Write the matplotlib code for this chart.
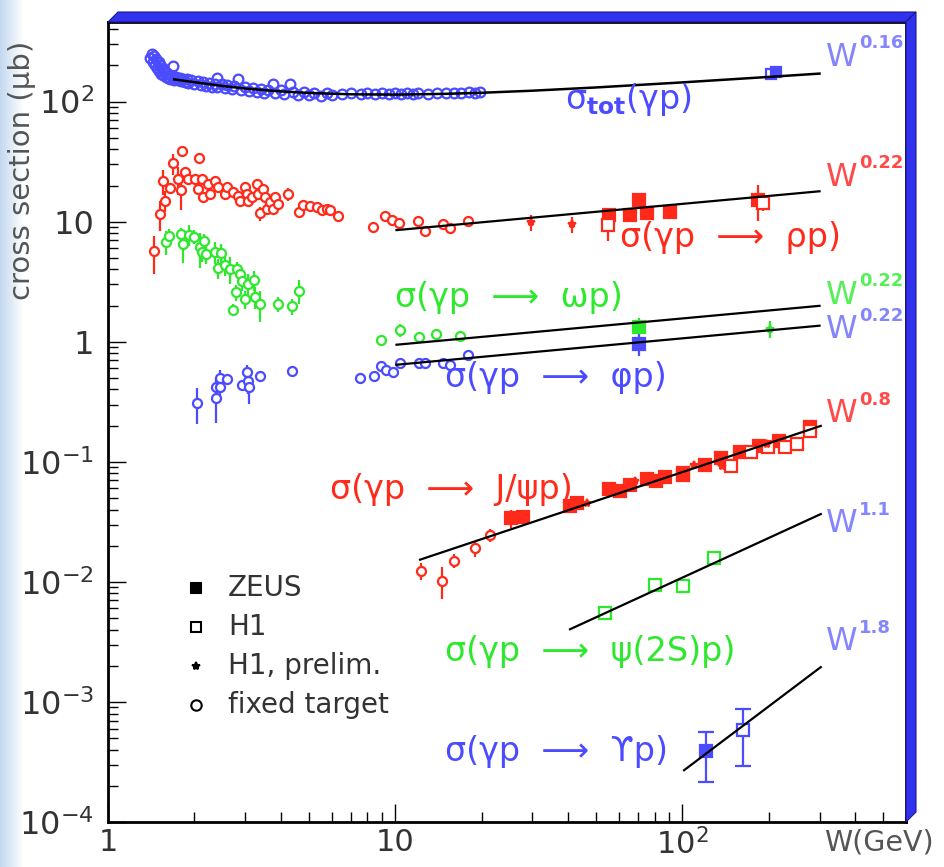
import numpy as np
import matplotlib
matplotlib.use("Agg")
import matplotlib.pyplot as plt
from matplotlib.patches import Polygon
from matplotlib.colors import LinearSegmentedColormap

plt.rcParams['mathtext.fontset'] = 'dejavusans'

BLUE = '#4b4bff'
RED = '#ff2a1a'
GREEN = '#2ee82e'
BLUE_W = '#8585ff'
RED_W = '#ff4a4a'
GREEN_W = '#55f055'

# ---------------- data (W in GeV, sigma in microbarn) ----------------
# total photoproduction, fixed target (W, sigma)
tot_ft = [(1.40, 230), (1.42, 250), (1.43, 215), (1.45, 240), (1.46, 200), (1.47, 225),
          (1.48, 190), (1.50, 215), (1.51, 180), (1.52, 200), (1.53, 170), (1.55, 190),
          (1.56, 165), (1.57, 180), (1.59, 160), (1.60, 172), (1.62, 158), (1.64, 168),
          (1.65, 155), (1.68, 199), (1.68, 162), (1.70, 152), (1.72, 160), (1.75, 150),
          (1.78, 157), (1.80, 148), (1.83, 155), (1.85, 145), (1.88, 153), (1.90, 143),
          (1.95, 150), (2.00, 141), (2.05, 148), (2.10, 138), (2.15, 146), (2.20, 136),
          (2.25, 143), (2.30, 133), (2.35, 141), (2.40, 158), (2.40, 131), (2.50, 139),
          (2.55, 129), (2.60, 137), (2.70, 127), (2.75, 134), (2.84, 155), (2.90, 125),
          (3.00, 132), (3.10, 123), (3.20, 130), (3.30, 121), (3.40, 128), (3.50, 119),
          (3.60, 126), (3.76, 141), (3.80, 118), (4.00, 124), (4.10, 116), (4.30, 141),
          (4.40, 121), (4.60, 114), (4.80, 120), (5.00, 113), (5.20, 118), (5.50, 112),
          (5.80, 117), (6.00, 113), (6.50, 116), (7.00, 118), (7.60, 115), (8.00, 117),
          (8.50, 116), (9.00, 118), (9.50, 115), (10.0, 117), (10.5, 116), (11.0, 118),
          (11.5, 115), (12.0, 117), (13.0, 116), (14.0, 118), (15.0, 117), (16.0, 119),
          (17.0, 118), (18.0, 121), (19.0, 119), (19.8, 120)]
tot_h1 = [(203, 171)]
tot_zeus = [(212, 178)]
tot_fit = [(1.7, 153), (2.0, 145), (2.5, 135), (3.0, 128.5), (4.0, 121.5), (5.0, 118),
           (7.0, 115), (10.0, 114.3), (15.0, 116), (20.0, 118.4), (30.0, 123.2),
           (50.0, 131.1), (100.0, 144.5), (200.0, 160.5), (300.0, 171)]

# rho photoproduction (W, sigma, error)
rho_ft = [(1.45, 5.66, 2.0), (1.52, 11.6, 3.3), (1.58, 15.0, 3.0), (1.55, 21.7, 5.0),
          (1.64, 19.0, 2.0), (1.68, 30.6, 6.0), (1.81, 38.8, 3.0), (1.75, 22.7, 6.0),
          (1.80, 18.5, 6.0), (1.85, 25.8, 2.0), (2.08, 34.0, 3.0), (1.90, 22.7, 1.0),
          (2.01, 22.7, 1.0), (2.12, 22.7, 1.0), (2.06, 18.8, 1.0), (2.15, 15.9, 1.5),
          (2.23, 20.7, 1.0), (2.26, 17.0, 1.0), (2.36, 21.9, 1.0), (2.42, 19.3, 1.0),
          (2.55, 17.0, 1.0), (2.59, 19.3, 1.0), (2.73, 17.5, 1.0), (2.84, 16.5, 1.0),
          (2.88, 15.0, 1.0), (3.00, 19.3, 1.0), (3.04, 17.0, 1.0), (3.08, 15.0, 1.5),
          (3.16, 15.9, 1.0), (3.30, 20.7, 1.0), (3.34, 17.0, 1.0), (3.38, 11.7, 1.5),
          (3.47, 18.8, 1.0), (3.52, 15.9, 1.0), (3.57, 12.8, 1.0), (3.66, 14.5, 1.0),
          (3.76, 12.8, 1.0), (3.81, 15.9, 1.0), (3.92, 14.0, 1.0), (4.22, 17.0, 2.0),
          (4.61, 12.0, 0.8), (4.79, 13.8, 0.6), (5.05, 13.6, 0.6), (5.33, 13.2, 0.6),
          (5.55, 12.4, 0.6), (5.78, 12.8, 0.6), (5.93, 12.4, 0.6), (6.34, 11.2, 0.6),
          (8.40, 8.97, 0.4), (9.23, 11.2, 0.4), (9.73, 10.3, 0.4), (10.3, 9.7, 0.4),
          (12.0, 10.2, 0.4), (12.7, 8.4, 0.4), (14.7, 9.5, 0.4), (15.5, 8.8, 0.4),
          (17.9, 10.1, 0.4)]
rho_zeus = [(55.6, 11.4, 1.0), (65.7, 11.4, 0.8), (70.6, 15.2, 1.5), (75.4, 11.8, 0.8),
            (90.8, 12.1, 0.8), (183, 15.2, 5.0)]
rho_h1 = [(55.1, 9.45, 2.5), (191, 14.3, 2.0)]
rho_h1p = [(29.7, 9.9, 1.5), (41.1, 9.5, 1.5)]
rho_fit = [(10.1, 8.5), (300, 17.9)]

# omega photoproduction (W, sigma, error)
omega_ft = [(1.59, 6.81, 1.5), (1.63, 7.54, 1.2), (1.79, 7.90, 1.0), (1.82, 6.50, 2.0),
            (1.92, 7.80, 1.5), (2.00, 7.50, 1.0), (2.09, 6.10, 2.0), (2.16, 6.90, 1.0),
            (2.12, 5.60, 1.0), (2.19, 5.40, 1.0), (2.36, 5.60, 1.2), (2.47, 5.50, 1.0),
            (2.42, 4.10, 0.8), (2.55, 4.35, 0.8), (2.66, 4.04, 1.0), (2.82, 4.04, 0.6),
            (2.88, 3.66, 0.7), (2.92, 3.22, 0.6), (3.08, 3.03, 0.6), (3.00, 2.27, 0.4),
            (2.79, 2.57, 0.4), (3.23, 3.27, 0.6), (3.26, 2.37, 0.5), (3.38, 2.06, 0.6),
            (2.72, 1.85, 0.2), (3.90, 2.06, 0.3), (4.36, 1.97, 0.3), (4.63, 2.66, 0.6),
            (8.93, 1.04, 0.04), (10.4, 1.25, 0.15), (12.1, 1.09, 0.1), (13.9, 1.16, 0.08),
            (16.8, 1.12, 0.05)]
omega_zeus = [(70.6, 1.33, 0.25)]
omega_h1p = [(202, 1.28, 0.2)]
omega_fit = [(10.1, 0.944), (300, 1.99)]

# phi photoproduction (W, sigma, error)
phi_ft = [(2.04, 0.308, 0.10), (2.38, 0.339, 0.13), (2.38, 0.416, 0.08), (2.45, 0.416, 0.10),
          (2.45, 0.498, 0.08), (2.59, 0.485, 0.03), (2.93, 0.435, 0.03), (3.08, 0.467, 0.10),
          (3.10, 0.422, 0.12), (3.05, 0.562, 0.08), (3.38, 0.520, 0.03), (4.36, 0.566, 0.05),
          (7.55, 0.498, 0.02), (8.44, 0.520, 0.02), (8.93, 0.631, 0.02), (9.30, 0.580, 0.02),
          (9.80, 0.562, 0.02), (10.4, 0.660, 0.02), (12.1, 0.670, 0.02), (12.7, 0.670, 0.02),
          (14.7, 0.670, 0.03), (15.5, 0.640, 0.02), (17.9, 0.780, 0.03)]
phi_zeus = [(70.6, 0.956, 0.2)]
phi_fit = [(10.1, 0.643), (300, 1.36)]

# J/psi photoproduction (W, sigma, error)
jpsi_ft = [(12.3, 0.01235, 0.002), (14.6, 0.0102, 0.003), (16.0, 0.0150, 0.002),
           (19.0, 0.0191, 0.003), (21.4, 0.0246, 0.003)]
jpsi_zeus = [(25.3, 0.0340, 0.006), (27.8, 0.0348, 0.002), (40.7, 0.0430, 0.003),
             (42.9, 0.0458, 0.003), (55.6, 0.0592, 0.003), (60.7, 0.0573, 0.003),
             (65.7, 0.0643, 0.004), (75.4, 0.0717, 0.004), (80.9, 0.0690, 0.004),
             (87.0, 0.0750, 0.004), (100.4, 0.0814, 0.006), (100.4, 0.0770, 0.005),
             (120, 0.0944, 0.005), (136, 0.107, 0.006), (158, 0.120, 0.007),
             (184, 0.136, 0.008), (217, 0.150, 0.009), (277, 0.196, 0.012)]
jpsi_h1 = [(148, 0.0926, 0.008), (173, 0.120, 0.009), (199, 0.132, 0.010),
           (228, 0.133, 0.012), (250, 0.142, 0.013), (277, 0.181, 0.014)]
jpsi_h1p = [(46.5, 0.045, 0.002), (68.5, 0.0686, 0.003), (109.5, 0.094, 0.004),
            (137, 0.0926, 0.005), (197, 0.142, 0.006)]
jpsi_fit = [(12.2, 0.0153), (303, 0.199)]

# psi(2S) photoproduction, H1 (W, sigma)
psi2s_h1 = [(53.8, 0.00548), (80.5, 0.00944), (100.3, 0.00927), (129, 0.0159)]
psi2s_fit = [(40.6, 0.00403), (303, 0.0367)]

# Upsilon photoproduction (W, sigma, error)
ups_zeus = [(121, 0.000391, 0.000175)]
ups_h1 = [(163, 0.00058, 0.00029)]
ups_fit = [(101.3, 0.00027), (303, 0.00195)]

# axis ticks
xtick_vals = [1, 10, 100]
xtick_labels = ['1', '10', r'$10^{2}$']
ytick_vals = [1e-4, 1e-3, 1e-2, 1e-1, 1, 10, 100]
ytick_labels = [r'$10^{-4}$', r'$10^{-3}$', r'$10^{-2}$', r'$10^{-1}$', '1', '10', r'$10^{2}$']

# ---------------- figure ----------------
fig = plt.figure(figsize=(9.44, 8.67), dpi=100)
fig.patch.set_facecolor('white')

# light blue gradient strip on the left
gax = fig.add_axes([0, 0, 24 / 944, 1])
cmap = LinearSegmentedColormap.from_list('strip', ['#c3d8f0', '#ffffff'])
gax.imshow(np.linspace(0, 1, 64)[None, :], cmap=cmap, aspect='auto')
gax.axis('off')

ax = fig.add_axes([108 / 944, 45 / 867, 798 / 944, 800 / 867])
ax.set_xscale('log')
ax.set_yscale('log')
ax.set_xlim(1, 600)
ax.set_ylim(1e-4, 460)


def split(d):
    cols = list(zip(*d))
    return [np.array(c, dtype=float) for c in cols]


def pts(data, color, kind, ms, caps=0):
    cols = split(data)
    W, s = cols[0], cols[1]
    e = cols[2] if len(cols) > 2 else None
    if kind == 'circle':
        fmt, mfc = 'o', 'white'
    elif kind == 'ocircle':
        fmt, mfc = 'o', 'none'
    elif kind == 'fsq':
        fmt, mfc = 's', color
    elif kind == 'osq':
        fmt, mfc = 's', 'white'
    else:
        fmt, mfc = '*', color
    ax.errorbar(W, s, yerr=e, fmt=fmt, color=color, mfc=mfc, mec=color, ms=ms,
                mew=1.6, elinewidth=1.6, capsize=caps, capthick=1.6, ls='none', zorder=3)


def fit(data, lw=1.6):
    W, s = split(data)
    ax.plot(W, s, color='black', lw=lw, zorder=4)


# total
pts(tot_ft, BLUE, 'ocircle', 7)
pts(tot_h1, BLUE, 'osq', 7.5)
pts(tot_zeus, BLUE, 'fsq', 7.5)
fit(tot_fit, lw=1.8)
# rho
pts(rho_ft, RED, 'circle', 6.5)
pts(rho_zeus, RED, 'fsq', 8)
pts(rho_h1, RED, 'osq', 8)
pts(rho_h1p, RED, 'star', 6)
fit(rho_fit)
# omega
pts(omega_ft, GREEN, 'circle', 6.5)
pts(omega_zeus, GREEN, 'fsq', 8)
pts(omega_h1p, GREEN, 'star', 6)
fit(omega_fit)
# phi
pts(phi_ft, BLUE, 'circle', 6.5)
pts(phi_zeus, BLUE, 'fsq', 8)
fit(phi_fit)
# J/psi
pts(jpsi_ft, RED, 'circle', 6.5)
pts(jpsi_zeus, RED, 'fsq', 8)
pts(jpsi_h1, RED, 'osq', 8)
pts(jpsi_h1p, RED, 'star', 6)
fit(jpsi_fit)
# psi(2S)
pts(psi2s_h1, GREEN, 'osq', 8)
fit(psi2s_fit)
# Upsilon
pts(ups_zeus, BLUE, 'fsq', 8, caps=6)
pts(ups_h1, BLUE, 'osq', 8, caps=6)
fit(ups_fit)

# ---------------- labels ----------------
def axfrac(px, py):
    return (px - 108) / 798, (822 - py) / 800


lab_kw = dict(transform=ax.transAxes, va='center', ha='left', fontsize=24, zorder=5)
wlab = [('0.16', 826, 57, BLUE_W),
        ('0.22', 826, 177, RED_W),
        ('0.22', 826, 295, GREEN_W),
        ('0.22', 826, 330, BLUE_W),
        ('0.8', 826, 414, RED_W),
        ('1.1', 826, 524, BLUE_W),
        ('1.8', 826, 642, BLUE_W)]
for t, px, py, c in wlab:
    fx, fy = axfrac(px, py)
    ax.text(fx, fy, 'W', color=c, transform=ax.transAxes, va='center', ha='left',
            fontsize=23, zorder=5)
    fx2, fy2 = axfrac(px + 33, py - 14)
    ax.text(fx2, fy2, t, color=c, transform=ax.transAxes, va='center', ha='left',
            fontsize=13, fontweight='bold', zorder=5)

rlab = [(r'$\mathrm{\sigma}_{\mathbf{tot}}\mathrm{(\gamma p)}$', 565, 100, BLUE),
        ('σ(γp  ⟶  ρp)', 620, 238, RED),
        ('σ(γp  ⟶  ωp)', 395, 297, GREEN),
        ('σ(γp  ⟶  φp)', 445, 377, BLUE),
        ('σ(γp  ⟶  J/ψp)', 330, 490, RED),
        ('σ(γp  ⟶  ψ(2S)p)', 445, 652, GREEN),
        ('σ(γp  ⟶  ϒp)', 445, 752, BLUE)]
for t, px, py, c in rlab:
    fx, fy = axfrac(px, py)
    ax.text(fx, fy, t, color=c, **lab_kw)

# legend (manual)
leg = [('s', 'black', 'ZEUS', 588), ('s', 'white', 'H1', 627),
       ('*', 'black', 'H1, prelim.', 666), ('o', 'white', 'fixed target', 705)]
for m, fc, t, py in leg:
    fx, fy = axfrac(196, py)
    ms = 6 if m == '*' else 7.5
    ax.plot([fx], [fy], marker=m, ms=ms, mfc=fc, mec='black', mew=1.5,
            transform=ax.transAxes, ls='none', zorder=5)
    fx2, _ = axfrac(228, py)
    ax.text(fx2, fy, t, transform=ax.transAxes, va='center', ha='left',
            fontsize=20, color='#333333', zorder=5)

# ---------------- axes styling ----------------
ax.set_xticks(xtick_vals)
ax.set_xticklabels(xtick_labels)
ax.set_yticks(ytick_vals)
ax.set_yticklabels(ytick_labels)
ax.tick_params(which='both', direction='in', top=False, right=False, colors='black',
               labelcolor='#333333', labelsize=22)
ax.tick_params(which='major', length=13, width=1.0)
ax.tick_params(which='minor', length=7, width=1.0)
ax.tick_params(axis='y', which='major', pad=10, labelsize=23)
ax.tick_params(axis='x', which='major', pad=4)
for sp in ax.spines.values():
    sp.set_linewidth(2.0)
    sp.set_color('black')

ax.set_ylabel('cross section (μb)', fontsize=21, color='#555555', labelpad=2)
ax.yaxis.set_label_coords(-0.09, 0.815)
fig.text(824 / 944, 1 - 843 / 867, 'W(GeV)', fontsize=20.5, color='#555555',
         ha='left', va='center')

# 3D blue frame (top and right bands)
def fp(px, py):
    return (px / 944, 1 - py / 867)


top = Polygon([fp(108, 22), fp(118, 12), fp(916, 12), fp(906, 22)], closed=True,
              transform=fig.transFigure, facecolor='#3232ee', edgecolor='#1a1a90', lw=0.8)
right = Polygon([fp(906, 22), fp(916, 12), fp(916, 812), fp(906, 822)], closed=True,
                transform=fig.transFigure, facecolor='#3232ee', edgecolor='#1a1a90', lw=0.8)
fig.add_artist(top)
fig.add_artist(right)

fig.savefig('out.png', dpi=100)
